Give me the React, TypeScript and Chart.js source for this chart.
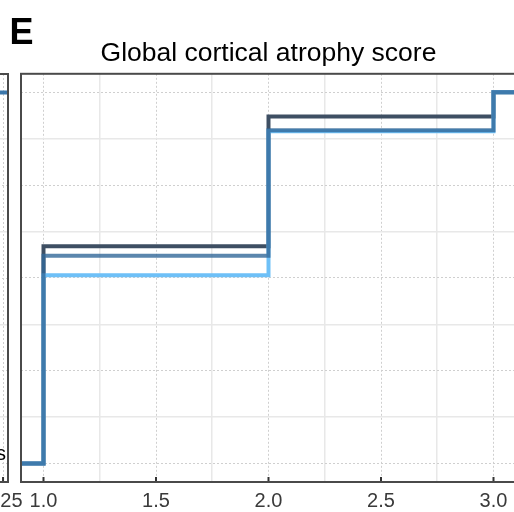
import React, { useEffect, useRef } from "react";
import { Chart, registerables } from "chart.js";

Chart.register(...registerables);

// ---- data (panel E: global cortical atrophy score, cumulative proportion) ----
const xValues = [0.9, 1, 2, 3, 3.1];
const darkSeries = [0, 0.585, 0.935, 1, 1];
const lightSeries = [0, 0.507, 0.895, 1, 1];
const blueSeries = [0, 0.56, 0.898, 1, 1];
const xMin = 0.9;
const xMax = 3.1;
const xStep = 0.5;
const yMin = -0.05;
const yMax = 1.05;

// ---- neighbouring panel (only its right edge is visible) ----
const leftXValues = [1.0, 1.261];
const leftSeries = [1, 1];
const leftXMin = 0.661;
const leftXMax = 1.261;
const leftXStep = 0.25;

const panelLetter = "E";
const panelTitle = "Global cortical atrophy score";
const leftLegendText = "s";

const FONT = "'Liberation Sans', Arial, Helvetica, sans-serif";
const CANVAS_H = 520;

const isOffStep = (v: number, step: number) =>
  Math.abs(v / step - Math.round(v / step)) > 0.01;

function makeScales(min: number, max: number, step: number, fmt: (v: number) => string) {
  return {
    x: {
      type: "linear",
      position: "bottom",
      min,
      max,
      ticks: {
        stepSize: step,
        includeBounds: false,
        autoSkip: false,
        maxRotation: 0,
        minRotation: 0,
        padding: 7,
        color: "#3a3a3a",
        font: { family: FONT, size: 20, lineHeight: 1.2 },
        callback: (v: any) => fmt(Number(v)),
      },
      grid: { color: "#cfcfcf", lineWidth: 1, drawTicks: false },
      border: { display: false, dash: [2, 2] },
    },
    x2: {
      type: "linear",
      position: "bottom",
      min,
      max,
      ticks: { display: false, stepSize: step / 2, includeBounds: false },
      grid: {
        drawTicks: false,
        lineWidth: 1.5,
        color: (c: any) =>
          c.tick && isOffStep(c.tick.value, step) ? "#e8e8e8" : "rgba(0,0,0,0)",
      },
      border: { display: false },
    },
    y: {
      type: "linear",
      position: "left",
      min: yMin,
      max: yMax,
      ticks: { display: false, stepSize: 0.25, includeBounds: false },
      grid: { color: "#cfcfcf", lineWidth: 1, drawTicks: false },
      border: { display: false, dash: [2, 2] },
    },
    y2: {
      type: "linear",
      position: "left",
      min: yMin,
      max: yMax,
      ticks: { display: false, stepSize: 0.125, includeBounds: false },
      grid: {
        drawTicks: false,
        lineWidth: 1.5,
        color: (c: any) =>
          c.tick && isOffStep(c.tick.value, 0.25) ? "#e8e8e8" : "rgba(0,0,0,0)",
      },
      border: { display: false },
    },
  };
}

const framePlugin = {
  id: "frameAndTicks",
  afterDatasetsDraw(chart: any) {
    const { ctx, chartArea: a, scales } = chart;
    ctx.save();
    const xs = scales.x;
    ctx.strokeStyle = "#333333";
    ctx.lineWidth = 2;
    xs.ticks.forEach((t: any) => {
      const px = xs.getPixelForValue(t.value);
      ctx.beginPath();
      ctx.moveTo(px, a.bottom);
      ctx.lineTo(px, a.bottom - 5);
      ctx.stroke();
    });
    ctx.strokeStyle = "#4a4a4a";
    ctx.lineWidth = 2;
    ctx.strokeRect(a.left, a.top, a.right - a.left, a.bottom - a.top);
    ctx.restore();
  },
};

const stepDataset = (xs: number[], ys: number[], color: string) => ({
  data: xs.map((x, i) => ({ x, y: ys[i] })),
  borderColor: color,
  backgroundColor: color,
  borderWidth: 4,
  stepped: true,
  pointRadius: 0,
  fill: false,
  borderCapStyle: "butt",
  borderJoinStyle: "miter",
  xAxisID: "x",
  yAxisID: "y",
});

export default function App() {
  const mainRef = useRef<HTMLCanvasElement | null>(null);
  const leftRef = useRef<HTMLCanvasElement | null>(null);

  useEffect(() => {
    // Chart.js paints dataset 0 last (on top): list top-most first
    const main = new Chart(mainRef.current as HTMLCanvasElement, {
      type: "line",
      data: {
        datasets: [
          stepDataset(xValues, blueSeries, "rgba(50,104,152,0.8)"),
          stepDataset(xValues, lightSeries, "#6ec0f7"),
          stepDataset(xValues, darkSeries, "#3e4f63"),
        ] as any,
      },
      options: {
        responsive: false,
        animation: false,
        devicePixelRatio: 1,
        layout: { padding: { left: 21, right: 21, top: 0, bottom: 0 } },
        plugins: {
          legend: { display: false },
          tooltip: { enabled: false },
          title: {
            display: true,
            text: panelTitle,
            color: "#000000",
            font: { family: FONT, size: 26.5, weight: "normal", lineHeight: 1.2 },
            padding: { top: 38, bottom: 4 },
          },
        },
        scales: makeScales(xMin, xMax, xStep, (v) => v.toFixed(1)) as any,
      },
      plugins: [framePlugin],
    });

    const left = new Chart(leftRef.current as HTMLCanvasElement, {
      type: "line",
      data: {
        datasets: [stepDataset(leftXValues, leftSeries, "#3b77ab")] as any,
      },
      options: {
        responsive: false,
        animation: false,
        devicePixelRatio: 1,
        layout: { padding: { left: 0, right: 45, top: 74, bottom: 0 } },
        plugins: {
          legend: { display: false },
          tooltip: { enabled: false },
          title: { display: false },
        },
        scales: makeScales(leftXMin, leftXMax, leftXStep, (v) => v.toFixed(2)) as any,
      },
      plugins: [framePlugin],
    });

    return () => {
      main.destroy();
      left.destroy();
    };
  }, []);

  return (
    <div
      style={{
        position: "fixed",
        left: 0,
        top: 0,
        width: 514,
        height: 512,
        overflow: "hidden",
        background: "#ffffff",
      }}
    >
      <canvas
        ref={mainRef}
        width={537}
        height={CANVAS_H}
        style={{ position: "absolute", left: 0, top: 0, width: 537, height: CANVAS_H }}
      />
      <canvas
        ref={leftRef}
        width={315}
        height={CANVAS_H}
        style={{ position: "absolute", left: -262, top: 0, width: 315, height: CANVAS_H }}
      />
      <div
        style={{
          position: "absolute",
          left: 9.5,
          top: 13.5,
          font: `bold 36px ${FONT}`,
          lineHeight: "36px",
          color: "#000",
        }}
      >
        {panelLetter}
      </div>
      <div
        style={{
          position: "absolute",
          right: 508,
          top: 443,
          font: `20px ${FONT}`,
          lineHeight: "20px",
          color: "#000",
          whiteSpace: "nowrap",
        }}
      >
        {leftLegendText}
      </div>
    </div>
  );
}
